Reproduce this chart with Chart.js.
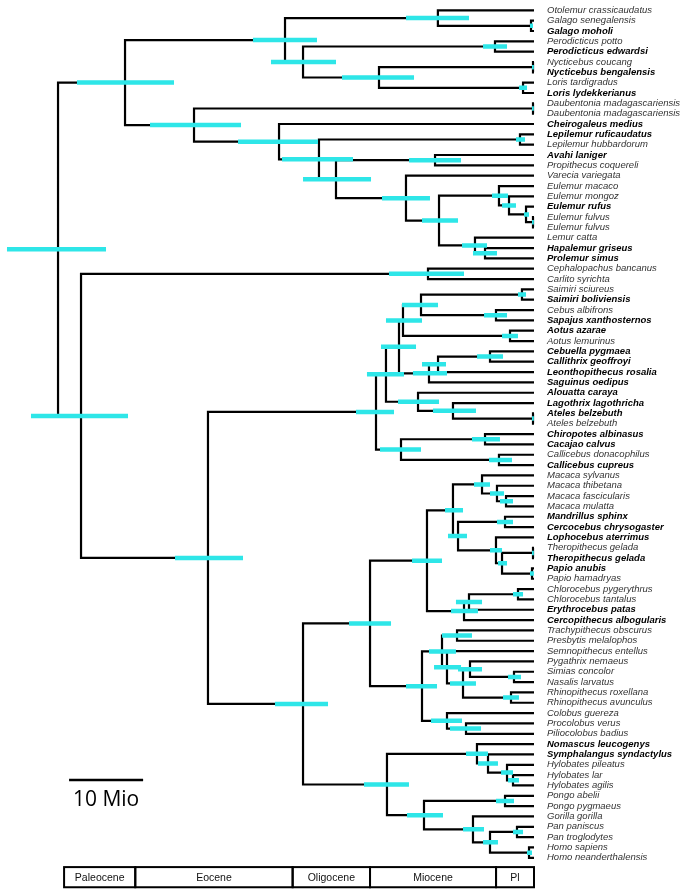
<!DOCTYPE html>
<html>
<head>
<meta charset="utf-8">
<script src="https://cdn.jsdelivr.net/npm/chart.js@4.4.0/dist/chart.umd.min.js"></script>
<style>
body { margin: 0; background: #fff; }
#wrap { width: 683px; height: 895px; position: relative; }
</style>
</head>
<body>
<div id="wrap"><canvas id="treeChart"></canvas></div>
<script>
// tip labels, top to bottom
const tipNames = [
  'Otolemur crassicaudatus', 'Galago senegalensis', 'Galago moholi', 'Perodicticus potto',
  'Perodicticus edwardsi', 'Nycticebus coucang', 'Nycticebus bengalensis', 'Loris tardigradus',
  'Loris lydekkerianus', 'Daubentonia madagascariensis', 'Daubentonia madagascariensis',
  'Cheirogaleus medius', 'Lepilemur ruficaudatus', 'Lepilemur hubbardorum', 'Avahi laniger',
  'Propithecus coquereli', 'Varecia variegata', 'Eulemur macaco', 'Eulemur mongoz', 'Eulemur rufus',
  'Eulemur fulvus', 'Eulemur fulvus', 'Lemur catta', 'Hapalemur griseus', 'Prolemur simus',
  'Cephalopachus bancanus', 'Carlito syrichta', 'Saimiri sciureus', 'Saimiri boliviensis',
  'Cebus albifrons', 'Sapajus xanthosternos', 'Aotus azarae', 'Aotus lemurinus', 'Cebuella pygmaea',
  'Callithrix geoffroyi', 'Leonthopithecus rosalia', 'Saguinus oedipus', 'Alouatta caraya',
  'Lagothrix lagothricha', 'Ateles belzebuth', 'Ateles belzebuth', 'Chiropotes albinasus',
  'Cacajao calvus', 'Callicebus donacophilus', 'Callicebus cupreus', 'Macaca sylvanus',
  'Macaca thibetana', 'Macaca fascicularis', 'Macaca mulatta', 'Mandrillus sphinx',
  'Cercocebus chrysogaster', 'Lophocebus aterrimus', 'Theropithecus gelada', 'Theropithecus gelada',
  'Papio anubis', 'Papio hamadryas', 'Chlorocebus pygerythrus', 'Chlorocebus tantalus',
  'Erythrocebus patas', 'Cercopithecus albogularis', 'Trachypithecus obscurus', 'Presbytis melalophos',
  'Semnopithecus entellus', 'Pygathrix nemaeus', 'Simias concolor', 'Nasalis larvatus',
  'Rhinopithecus roxellana', 'Rhinopithecus avunculus', 'Colobus guereza', 'Procolobus verus',
  'Piliocolobus badius', 'Nomascus leucogenys', 'Symphalangus syndactylus', 'Hylobates pileatus',
  'Hylobates lar', 'Hylobates agilis', 'Pongo abelii', 'Pongo pygmaeus', 'Gorilla gorilla',
  'Pan paniscus', 'Pan troglodytes', 'Homo sapiens', 'Homo neanderthalensis'
];

// tips printed in bold
const boldTips = [2, 4, 6, 8, 11, 12, 14, 19, 23, 24, 28, 30, 31, 33, 34, 35, 36, 37, 38, 39,
  41, 42, 44, 49, 50, 51, 53, 54, 58, 59, 71, 72];

// internal nodes: [id, child A, child B, age (Ma), HPD old, HPD young]
// numeric children are tip indices
const nodes = [
  ['galago', 1, 2, 0.42, 0.56, 0.14],
  ['galagidae', 0, 'galago', 13.5, 17.98, 9.13],
  ['perod', 3, 4, 5.48, 7.16, 3.79],
  ['nycti', 5, 6, 0.14, 0.28, 0.02],
  ['loris', 7, 8, 1.54, 2.11, 0.98],
  ['nyctiLoris', 'nycti', 'loris', 21.77, 26.97, 16.85],
  ['lorisidae', 'perod', 'nyctiLoris', 32.44, 36.94, 27.81],
  ['lorisiformes', 'galagidae', 'lorisidae', 34.97, 39.47, 30.48],
  ['daub', 9, 10, 0.14, 0.28, 0.02],
  ['lep', 12, 13, 1.97, 2.53, 1.26],
  ['indri', 14, 15, 13.9, 17.56, 10.25],
  ['fulvus', 20, 21, 0.14, 0.28, 0.02],
  ['eulH', 19, 'fulvus', 1.12, 1.4, 0.7],
  ['eulG', 18, 'eulH', 3.51, 4.49, 2.53],
  ['eulemur', 17, 'eulG', 4.92, 5.9, 3.65],
  ['hapProl', 23, 24, 6.88, 8.57, 5.2],
  ['lemurClade', 22, 'hapProl', 8.29, 10.11, 6.6],
  ['lemurinae', 'eulemur', 'lemurClade', 13.34, 15.73, 10.67],
  ['lemuridae', 16, 'lemurinae', 17.98, 21.35, 14.61],
  ['indriLemur', 'indri', 'lemuridae', 27.81, 32.44, 22.89],
  ['lepIL', 'lep', 'indriLemur', 30.2, 35.39, 25.42],
  ['lemuroidea', 11, 'lepIL', 35.81, 41.57, 30.34],
  ['lemuriformes', 'daub', 'lemuroidea', 47.75, 53.93, 41.15],
  ['strep', 'lorisiformes', 'lemuriformes', 57.44, 64.19, 50.56],
  ['tarsier', 25, 26, 14.89, 20.37, 9.83],
  ['saimiri', 27, 28, 1.69, 2.25, 1.12],
  ['cebus', 29, 30, 5.34, 7.02, 3.79],
  ['cebinae', 'saimiri', 'cebus', 15.87, 18.54, 13.48],
  ['aotus', 31, 32, 3.37, 4.49, 2.25],
  ['cebAot', 'cebinae', 'aotus', 18.4, 20.79, 15.73],
  ['cebCall', 33, 34, 6.18, 8.0, 4.35],
  ['leonto', 'cebCall', 35, 13.48, 15.73, 12.36],
  ['callit', 'leonto', 36, 14.75, 17.0, 12.22],
  ['cebidae', 'cebAot', 'callit', 18.96, 21.49, 16.57],
  ['ateles', 39, 40, 0.14, 0.28, 0.02],
  ['lagAt', 38, 'ateles', 11.38, 14.19, 8.15],
  ['atelidae', 37, 'lagAt', 16.29, 19.1, 13.34],
  ['cebAtel', 'cebidae', 'atelidae', 20.79, 23.46, 18.26],
  ['chirCac', 41, 42, 6.88, 8.71, 4.78],
  ['callic', 43, 44, 4.92, 6.32, 3.09],
  ['pithec', 'chirCac', 'callic', 18.68, 21.63, 15.87],
  ['platyr', 'cebAtel', 'pithec', 22.19, 25.0, 19.66],
  ['macM3', 47, 48, 3.93, 4.78, 2.95],
  ['macM2', 46, 'macM3', 5.2, 6.18, 4.21],
  ['macaca', 45, 'macM2', 7.3, 8.43, 6.18],
  ['mandCerc', 49, 50, 4.07, 5.2, 2.95],
  ['thero', 52, 53, 0.14, 0.28, 0.02],
  ['papio', 54, 55, 0.28, 0.56, 0.02],
  ['theroPapio', 'thero', 'papio', 4.49, 5.06, 3.79],
  ['lophX', 51, 'theroPapio', 5.34, 6.18, 4.49],
  ['nodeW', 'mandCerc', 'lophX', 10.67, 12.08, 9.41],
  ['papionini', 'macaca', 'nodeW', 11.38, 12.5, 9.97],
  ['chloro', 56, 57, 2.25, 2.95, 1.54],
  ['chlEry', 'chloro', 58, 9.13, 10.96, 7.3],
  ['cercopithecini', 'chlEry', 59, 9.83, 11.66, 7.87],
  ['cercopithecinae', 'papionini', 'cercopithecini', 15.03, 17.13, 12.92],
  ['trachPres', 60, 61, 10.81, 12.92, 8.71],
  ['simNas', 64, 65, 2.81, 3.65, 1.83],
  ['pygSN', 63, 'simNas', 8.99, 10.67, 7.3],
  ['rhino', 66, 67, 3.23, 4.35, 2.11],
  ['oddNosed', 'pygSN', 'rhino', 9.97, 11.8, 8.15],
  ['semOdd', 62, 'oddNosed', 12.22, 14.04, 10.25],
  ['asianCol', 'trachPres', 'semOdd', 12.92, 14.75, 10.96],
  ['procPil', 69, 70, 9.55, 11.8, 7.44],
  ['africanCol', 68, 'procPil', 12.22, 14.47, 10.11],
  ['colobinae', 'asianCol', 'africanCol', 15.73, 17.98, 13.62],
  ['cercopithecidae', 'cercopithecinae', 'colobinae', 23.03, 25.98, 20.08],
  ['hylLA', 74, 75, 2.95, 3.65, 2.11],
  ['hylobates', 73, 'hylLA', 3.79, 4.63, 2.95],
  ['sympHyl', 72, 'hylobates', 6.46, 7.87, 5.06],
  ['hylobatidae', 71, 'sympHyl', 8.01, 9.55, 6.46],
  ['pongo', 76, 77, 4.07, 5.34, 2.81],
  ['pan', 79, 80, 2.39, 2.95, 1.54],
  ['homo', 81, 82, 0.7, 0.98, 0.28],
  ['panHomo', 'pan', 'homo', 6.18, 7.16, 5.06],
  ['homininae', 78, 'panHomo', 8.57, 9.97, 7.02],
  ['hominidae', 'pongo', 'homininae', 15.45, 17.84, 12.78],
  ['hominoidea', 'hylobatidae', 'hominidae', 20.65, 23.88, 17.56],
  ['catarrhini', 'cercopithecidae', 'hominoidea', 32.44, 36.38, 28.93],
  ['anthropoidea', 'platyr', 'catarrhini', 45.79, 50.42, 40.87],
  ['haplorhini', 'tarsier', 'anthropoidea', 63.62, 70.65, 57.02],
  ['root', 'strep', 'haplorhini', 66.85, 74.02, 60.11]
];

// geological time scale (Ma)
const epochNames = ['Paleocene', 'Eocene', 'Oligocene', 'Miocene', 'Pl'];
const epochBounds = [66, 56, 33.9, 23.03, 5.33, 0];

const nodeMap = {};
nodes.forEach(n => { nodeMap[n[0]] = n; });

// x = -age, y = tip row (node row = midpoint of its children)
let posOf = (id) => {
  if (typeof id === 'number') return { x: 0, y: id };
  let n = nodeMap[id];
  let a = posOf(n[1]);
  let b = posOf(n[2]);
  return { x: -n[3], y: (a.y + b.y) / 2 };
};

let branchPts = [];
let hpdPts = [];
nodes.forEach(n => {
  let p = posOf(n[0]), a = posOf(n[1]), b = posOf(n[2]);
  branchPts.push({ x: a.x, y: a.y }, { x: p.x, y: a.y }, { x: p.x, y: b.y }, { x: b.x, y: b.y }, { x: null, y: null });
  hpdPts.push({ x: -n[4], y: p.y }, { x: -n[5], y: p.y }, { x: null, y: null });
});

const timeScale = {
  id: 'timeScale',
  afterDraw(chart) {
    let ctx = chart.ctx;
    let xs = chart.scales.x, ys = chart.scales.y;
    let top = ys.getPixelForValue(82.9);
    let bot = ys.getPixelForValue(84.85);
    ctx.save();
    ctx.lineWidth = 2;
    ctx.strokeStyle = '#000';
    ctx.fillStyle = '#111';
    ctx.font = '10.5px "Liberation Sans", Arial, sans-serif';
    ctx.textAlign = 'center';
    ctx.textBaseline = 'middle';
    for (let i = 0; i < epochNames.length; i++) {
      let x0 = xs.getPixelForValue(-epochBounds[i]);
      let x1 = xs.getPixelForValue(-epochBounds[i + 1]);
      ctx.strokeRect(x0, top, x1 - x0, bot - top);
      ctx.fillText(epochNames[i], (x0 + x1) / 2, (top + bot) / 2 + 0.5);
    }

    // 10 Mio scale bar
    let sb0 = xs.getPixelForValue(-65.3);
    let sb1 = xs.getPixelForValue(-65.3 + 10.4);
    let sy = ys.getPixelForValue(74.47);
    ctx.lineWidth = 2.5;
    ctx.beginPath();
    ctx.moveTo(sb0, sy);
    ctx.lineTo(sb1, sy);
    ctx.stroke();
    ctx.fillStyle = '#000';
    ctx.font = '21px "Open Sans", "Liberation Sans", sans-serif';
    ctx.textBaseline = 'alphabetic';
    ctx.fillText('10 Mio', (sb0 + sb1) / 2, ys.getPixelForValue(76.99));
    ctx.restore();
  }
};

let ctx = document.getElementById('treeChart').getContext('2d');
let treeChart = new Chart(ctx, {
  type: 'line',
  data: {
    datasets: [{
      data: hpdPts,
      borderColor: '#2ee6e8',
      borderWidth: 4.5,
      borderCapStyle: 'butt',
      pointRadius: 0,
      clip: false,
      order: 0
    }, {
      data: branchPts,
      borderColor: '#000',
      borderWidth: 2.2,
      borderJoinStyle: 'miter',
      borderCapStyle: 'butt',
      pointRadius: 0,
      clip: false,
      order: 1
    }]
  },
  options: {
    animation: false,
    responsive: true,
    maintainAspectRatio: false,
    layout: { padding: 0 },
    plugins: {
      legend: { display: false },
      tooltip: { enabled: false }
    },
    scales: {
      x: { type: 'linear', min: -75, max: 0, display: false },
      y: {
        type: 'linear',
        position: 'right',
        reverse: true,
        min: -1,
        max: 85.6,
        grid: { display: false, drawTicks: false },
        border: { display: false },
        afterBuildTicks: (scale) => {
          scale.ticks = tipNames.map((_, i) => ({ value: i }));
        },
        afterFit: (scale) => {
          scale.width = 149;
          scale.paddingTop = 0;
          scale.paddingBottom = 0;
        },
        ticks: {
          autoSkip: false,
          padding: 13,
          callback: (v) => tipNames[v],
          font: (c) => ({
            family: '"Liberation Sans", Arial, sans-serif',
            size: 9.5,
            style: 'italic',
            weight: boldTips.includes(c.index) ? 'bold' : 'normal'
          }),
          color: (c) => boldTips.includes(c.index) ? '#000' : '#333'
        }
      }
    }
  },
  plugins: [timeScale]
});
</script>
</body>
</html>
